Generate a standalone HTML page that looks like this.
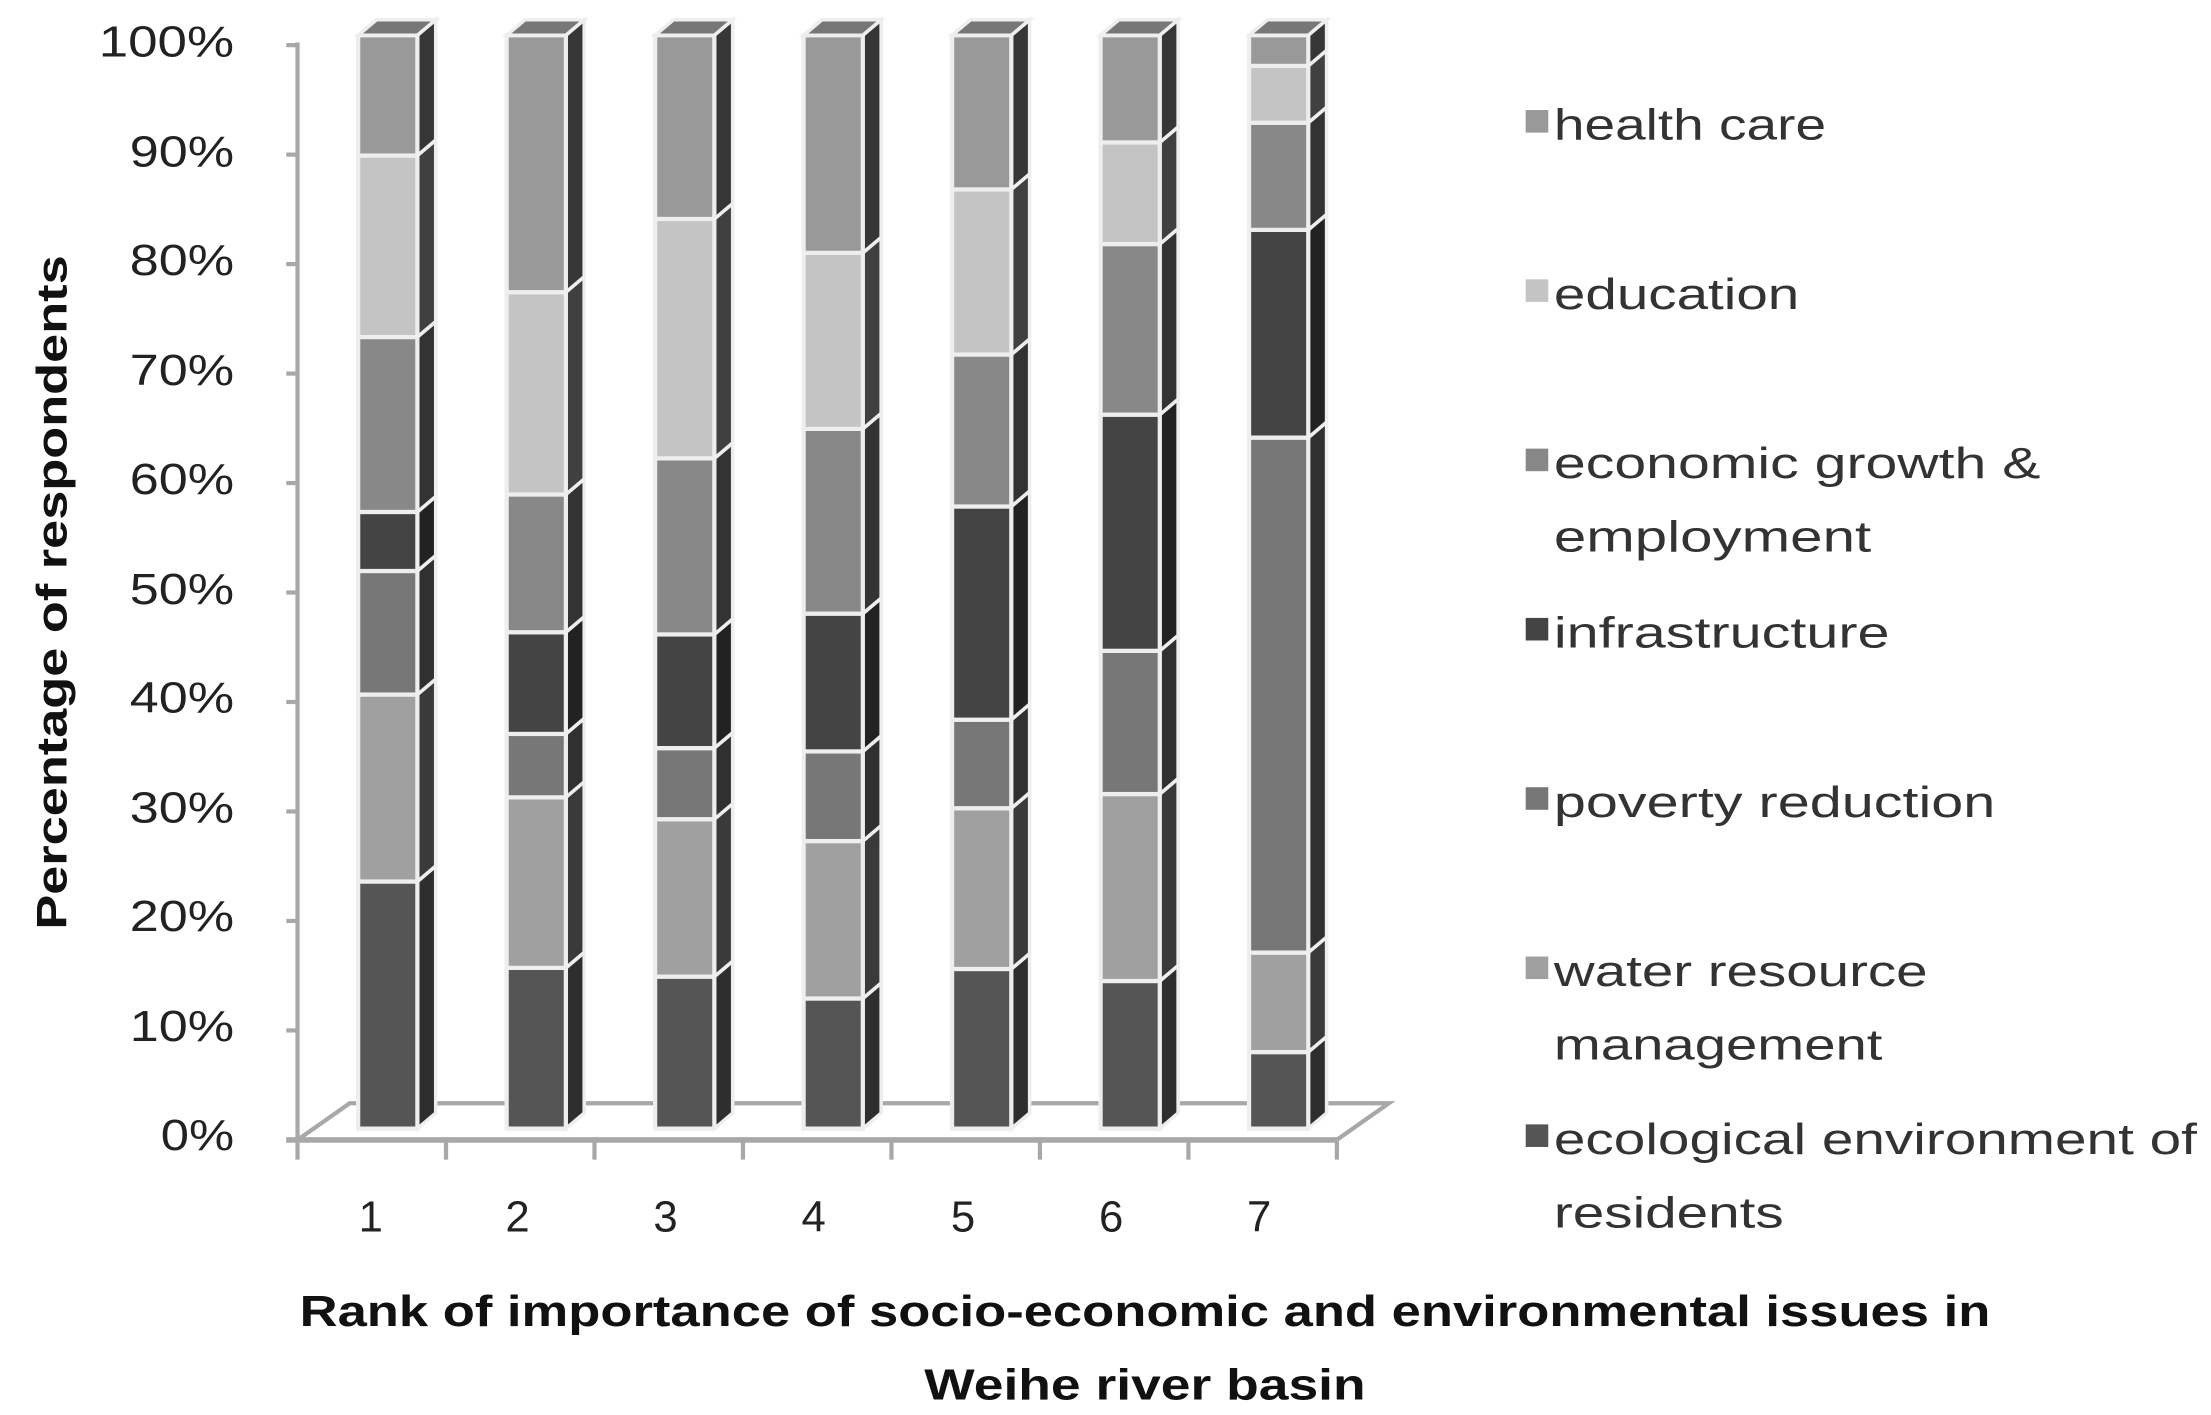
<!DOCTYPE html>
<html><head><meta charset="utf-8"><style>
html,body{margin:0;padding:0;background:#fff;}
svg{display:block;}
text{font-family:"Liberation Sans","DejaVu Sans",sans-serif;}
</style></head><body>
<svg id="c" width="2211" height="1415" viewBox="0 0 1568 1003" preserveAspectRatio="none" xmlns="http://www.w3.org/2000/svg">
<rect width="1568" height="1003" fill="#fff"/>
<g id="floor"></g>
<g id="bars"></g>
<g font-size="31" fill="#222" text-anchor="end">
<text x="166" y="815" textLength="52" lengthAdjust="spacingAndGlyphs">0%</text>
<text x="166" y="738" textLength="74" lengthAdjust="spacingAndGlyphs">10%</text>
<text x="166" y="660" textLength="74" lengthAdjust="spacingAndGlyphs">20%</text>
<text x="166" y="583" textLength="74" lengthAdjust="spacingAndGlyphs">30%</text>
<text x="166" y="505" textLength="74" lengthAdjust="spacingAndGlyphs">40%</text>
<text x="166" y="428" textLength="74" lengthAdjust="spacingAndGlyphs">50%</text>
<text x="166" y="350" textLength="74" lengthAdjust="spacingAndGlyphs">60%</text>
<text x="166" y="273" textLength="74" lengthAdjust="spacingAndGlyphs">70%</text>
<text x="166" y="195" textLength="74" lengthAdjust="spacingAndGlyphs">80%</text>
<text x="166" y="118" textLength="74" lengthAdjust="spacingAndGlyphs">90%</text>
<text x="166" y="40" textLength="96" lengthAdjust="spacingAndGlyphs">100%</text>
</g>
<g font-size="31" fill="#222" text-anchor="middle">
<text x="263" y="873">1</text><text x="367" y="873">2</text><text x="472" y="873">3</text><text x="577" y="873">4</text><text x="683" y="873">5</text><text x="788" y="873">6</text><text x="893" y="873">7</text>
</g>
<text transform="translate(47,420) rotate(-90)" font-size="30" font-weight="bold" fill="#111" text-anchor="middle" textLength="478" lengthAdjust="spacingAndGlyphs">Percentage of respondents</text>
<g font-size="31" font-weight="bold" fill="#111" text-anchor="middle">
<text x="812" y="940" textLength="1199" lengthAdjust="spacingAndGlyphs">Rank of importance of socio-economic and environmental issues in</text>
<text x="812" y="992" textLength="313" lengthAdjust="spacingAndGlyphs">Weihe river basin</text>
</g>
<g font-size="31" fill="#333">
<rect x="1082" y="78" width="16" height="16" fill="#999"/><text x="1102" y="99" textLength="193" lengthAdjust="spacingAndGlyphs">health care</text>
<rect x="1082" y="198" width="16" height="16" fill="#c4c4c4"/><text x="1102" y="219" textLength="174" lengthAdjust="spacingAndGlyphs">education</text>
<rect x="1082" y="318" width="16" height="16" fill="#888"/><text x="1102" y="339" textLength="345" lengthAdjust="spacingAndGlyphs">economic growth &amp;</text><text x="1102" y="391" textLength="225" lengthAdjust="spacingAndGlyphs">employment</text>
<rect x="1082" y="438" width="16" height="16" fill="#444"/><text x="1102" y="459" textLength="238" lengthAdjust="spacingAndGlyphs">infrastructure</text>
<rect x="1082" y="558" width="16" height="16" fill="#777"/><text x="1102" y="579" textLength="313" lengthAdjust="spacingAndGlyphs">poverty reduction</text>
<rect x="1082" y="678" width="16" height="16" fill="#a0a0a0"/><text x="1102" y="699" textLength="265" lengthAdjust="spacingAndGlyphs">water resource</text><text x="1102" y="751" textLength="233" lengthAdjust="spacingAndGlyphs">management</text>
<rect x="1082" y="797" width="16" height="16" fill="#555"/><text x="1102" y="818" textLength="456" lengthAdjust="spacingAndGlyphs">ecological environment of</text><text x="1102" y="870" textLength="163" lengthAdjust="spacingAndGlyphs">residents</text>
</g>
</svg>
<script>
(function(){
var NS="http://www.w3.org/2000/svg";
function el(p,t,a){var e=document.createElementNS(NS,t);for(var k in a)e.setAttribute(k,a[k]);p.appendChild(e);return e;}
var fl=document.getElementById("floor");
el(fl,"line",{x1:211,y1:30,x2:211,y2:808,stroke:"#a8a8a8","stroke-width":3});
for(var i=0;i<=10;i++){var y=808-i*77.6;el(fl,"line",{x1:203,y1:y,x2:211,y2:y,stroke:"#a8a8a8","stroke-width":3});}
el(fl,"polygon",{points:"211,808 248,782 985,782 948,808",fill:"#fff",stroke:"#a8a8a8","stroke-width":3});
el(fl,"line",{x1:203,y1:808,x2:948,y2:808,stroke:"#a8a8a8","stroke-width":4});
for(var i=0;i<8;i++){var x=211+i*105.3;el(fl,"line",{x1:x,y1:808,x2:x,y2:822,stroke:"#a8a8a8","stroke-width":3});}
var cols=["#555555","#a0a0a0","#777777","#444444","#888888","#c4c4c4","#999999"];
var side=["#2e2e2e","#3a3a3a","#303030","#222222","#333333","#404040","#363636"];
var data=[[22.6,39.7,51,56.4,72.4,89,100],[14.7,30.3,36.1,45.4,58,76.5,100],[13.9,28.3,34.8,45.2,61.3,83.2,100],[11.9,26.3,34.5,47.1,64,80.1,100],[14.6,29.3,37.4,56.9,70.8,85.9,100],[13.5,30.6,43.7,65.3,80.9,90.2,100],[7,16.1,63.2,82.2,92,97.2,100]];
var g=document.getElementById("bars");
var y0=800,sc=7.75,w=42,dx=13,dy=11;
data.forEach(function(b,bi){
  var x=254+bi*105.3,prev=0;
  b.forEach(function(v,si){
    var yb=y0-prev*sc,yt=y0-v*sc;
    el(g,"polygon",{points:(x+w)+","+yt+" "+(x+w+dx)+","+(yt-dy)+" "+(x+w+dx)+","+(yb-dy)+" "+(x+w)+","+yb,fill:side[si],stroke:"#eee","stroke-width":2.5});
    el(g,"rect",{x:x,y:yt,width:w,height:yb-yt,fill:cols[si],stroke:"#eee","stroke-width":3});
    prev=v;
  });
  var yt=y0-100*sc;
  el(g,"polygon",{points:x+","+yt+" "+(x+dx)+","+(yt-dy)+" "+(x+w+dx)+","+(yt-dy)+" "+(x+w)+","+yt,fill:"#777",stroke:"#eee","stroke-width":2.5});
});
})();
</script>
</body></html>
